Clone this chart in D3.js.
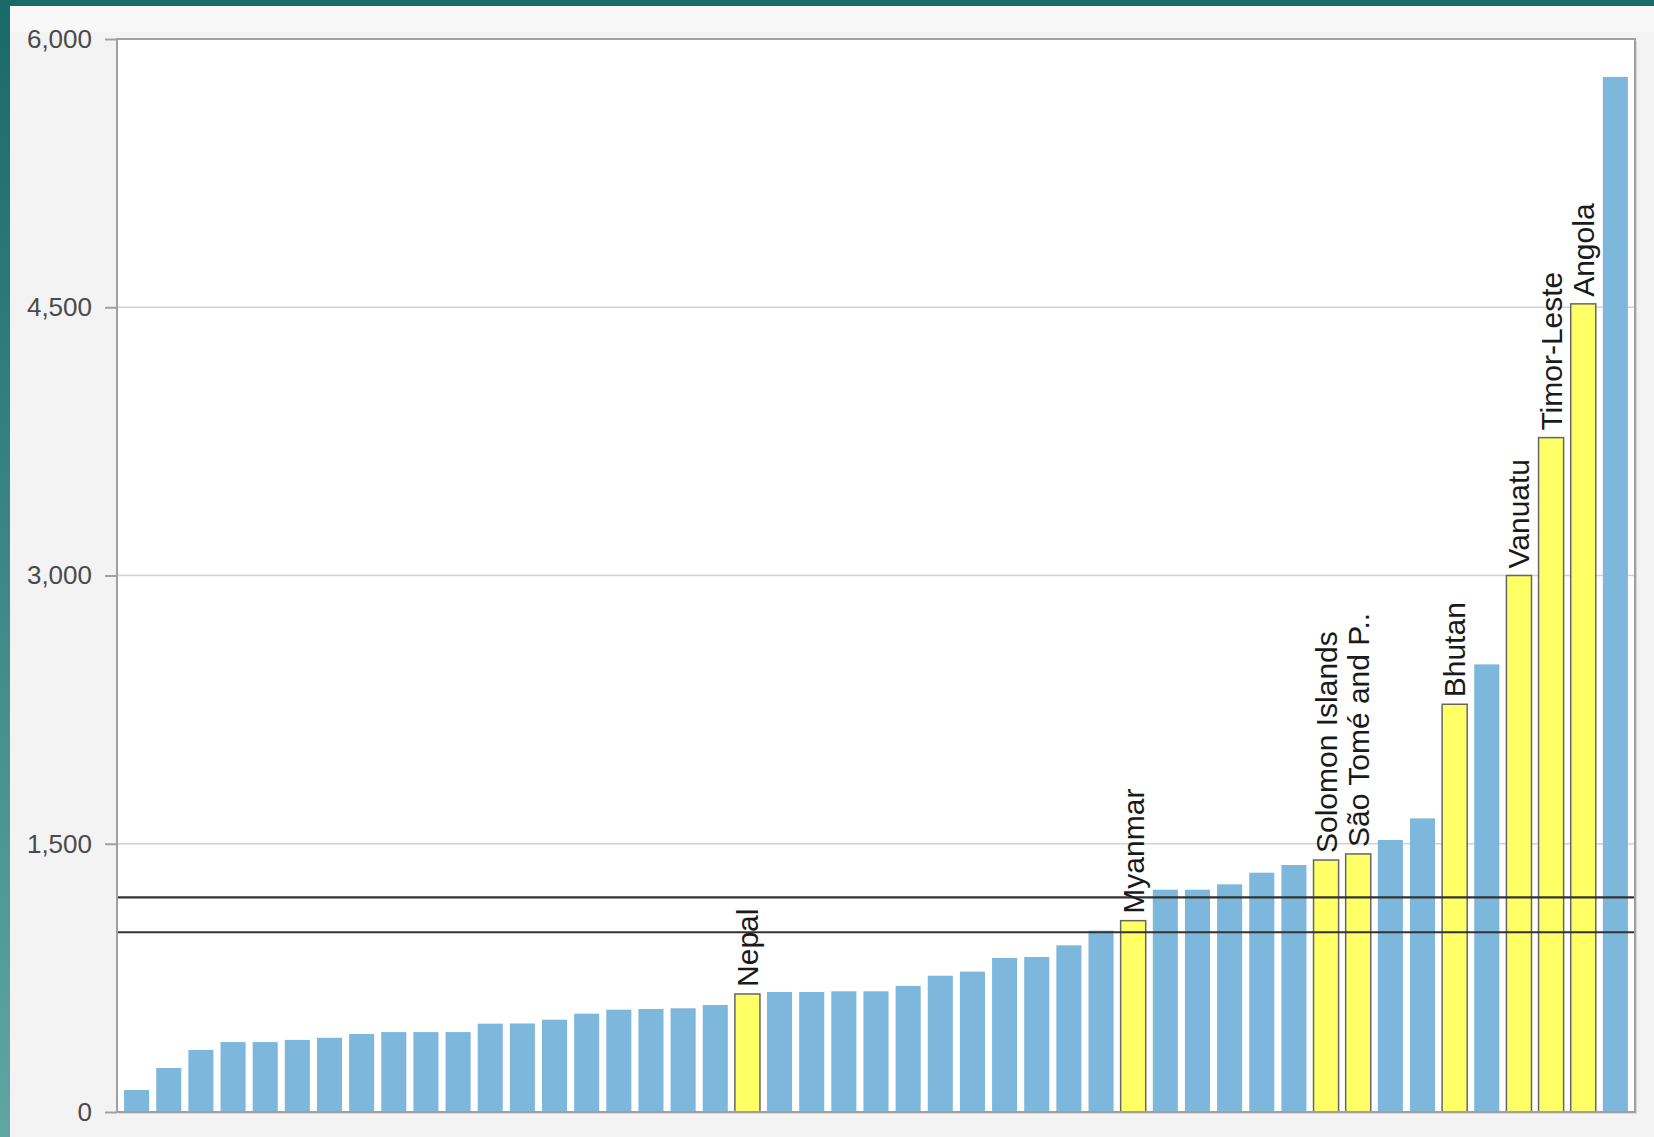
<!DOCTYPE html>
<html>
<head>
<meta charset="utf-8">
<script src="https://cdn.jsdelivr.net/npm/d3@7"></script>
<style>
  body { margin: 0; background: #f3f3f3; }
  svg { display: block; font-family: "Liberation Sans", Arial, sans-serif; }
</style>
</head>
<body>
<svg id="chart"></svg>
<script>
// bar values, sorted ascending
let values = [123, 246, 347, 391, 391, 403, 415, 436, 447, 447,
              447, 494, 495, 516, 550, 572, 576, 580, 598, 660,
              671, 671, 675, 675, 705, 762, 785, 861, 867, 932,
              1014, 1070, 1243, 1243, 1273, 1338, 1381, 1409, 1443, 1521,
              1642, 2280, 2503, 3000, 3771, 4519, 5788];
// only the highlighted bars carry a name
let labels = ["", "", "", "", "", "", "", "", "", "",
              "", "", "", "", "", "", "", "", "", "Nepal",
              "", "", "", "", "", "", "", "", "", "",
              "", "Myanmar", "", "", "", "", "", "Solomon Islands", "São Tomé and P..", "",
              "", "Bhutan", "", "Vanuatu", "Timor-Leste", "Angola", ""];
let yTicks = [0, 1500, 3000, 4500, 6000];
let refLines = [1005, 1200];

let width = 1654, height = 1137;
let plotL = 117, plotR = 1635, plotT = 39, plotB = 1112;

let svg = d3.select("#chart")
    .attr("width", width)
    .attr("height", height);

// page frame: teal band top and left
let grad = svg.append("defs").append("linearGradient")
    .attr("id", "tealfade")
    .attr("x1", 0).attr("y1", 0).attr("x2", 0).attr("y2", 1);
grad.append("stop").attr("offset", "0%").attr("stop-color", "#1a6969");
grad.append("stop").attr("offset", "100%").attr("stop-color", "#5fa6a3");

svg.append("rect").attr("x", 0).attr("y", 0).attr("width", width).attr("height", height).attr("fill", "#f3f3f3");
svg.append("rect").attr("x", 0).attr("y", 6).attr("width", width).attr("height", 26).attr("fill", "#f8f8f8");
svg.append("rect").attr("x", 0).attr("y", 0).attr("width", width).attr("height", 6).attr("fill", "#1a6969");
svg.append("rect").attr("x", 0).attr("y", 0).attr("width", 10).attr("height", height).attr("fill", "url(#tealfade)");

let x = d3.scaleBand()
    .domain(d3.range(values.length))
    .range([plotL, plotR])
    .paddingInner(0.22)
    .paddingOuter(0.22);

let y = d3.scaleLinear()
    .domain([0, 6000])
    .range([plotB, plotT]);

// plot background with a soft shadow
svg.append("rect")
    .attr("x", plotL + 2).attr("y", plotT + 2)
    .attr("width", plotR - plotL).attr("height", plotB - plotT)
    .attr("fill", "#d8d8d8");
svg.append("rect")
    .attr("x", plotL).attr("y", plotT)
    .attr("width", plotR - plotL).attr("height", plotB - plotT)
    .attr("fill", "#ffffff");

// gridlines
svg.append("g")
    .selectAll("line")
    .data(yTicks.filter(function (d) { return d > 0 && d < 6000; }))
    .enter()
    .append("line")
    .attr("x1", plotL).attr("x2", plotR)
    .attr("y1", function (d) { return y(d); })
    .attr("y2", function (d) { return y(d); })
    .attr("stroke", "#d2d2d2")
    .attr("stroke-width", 1.5);

// y axis
let yAxis = svg.append("g")
    .attr("transform", "translate(" + plotL + ",0)")
    .call(d3.axisLeft(y).tickValues(yTicks).tickFormat(d3.format(",")).tickSize(12).tickPadding(13));
yAxis.select(".domain").remove();
yAxis.selectAll(".tick line").attr("stroke", "#a0a0a0").attr("stroke-width", 2);
yAxis.selectAll(".tick text")
    .attr("fill", "#4a4a4a")
    .style("font-size", "26px")
    .style("font-family", "'Liberation Sans', Arial, sans-serif");

// bars
svg.append("g")
    .selectAll("rect")
    .data(values)
    .enter()
    .append("rect")
    .attr("x", function (d, i) { return x(i); })
    .attr("y", function (d) { return y(d); })
    .attr("width", x.bandwidth())
    .attr("height", function (d) { return y(0) - y(d); })
    .attr("fill", function (d, i) { return labels[i] ? "#ffff66" : "#7db7dc"; })
    .attr("stroke", function (d, i) { return labels[i] ? "#666666" : "none"; })
    .attr("stroke-width", 1.5);

// reference lines
svg.append("g")
    .selectAll("line")
    .data(refLines)
    .enter()
    .append("line")
    .attr("x1", plotL).attr("x2", plotR)
    .attr("y1", function (d) { return y(d); })
    .attr("y2", function (d) { return y(d); })
    .attr("stroke", "#333333")
    .attr("stroke-width", 2.2);

// frame
svg.append("rect")
    .attr("x", plotL).attr("y", plotT)
    .attr("width", plotR - plotL).attr("height", plotB - plotT)
    .attr("fill", "none")
    .attr("stroke", "#a0a0a0")
    .attr("stroke-width", 2);

// rotated labels over the highlighted bars
svg.append("g")
    .selectAll("text")
    .data(values.map(function (v, i) { return {v: v, i: i, name: labels[i]}; }).filter(function (d) { return d.name; }))
    .enter()
    .append("text")
    .attr("transform", function (d) {
        let cx = x(d.i) + x.bandwidth() / 2;
        let cy = y(d.v) - 7;
        return "translate(" + cx + "," + cy + ") rotate(-90)";
    })
    .attr("dy", "0.35em")
    .attr("fill", "#1a1a1a")
    .style("font-size", "30px")
    .text(function (d) { return d.name; });
</script>
</body>
</html>
